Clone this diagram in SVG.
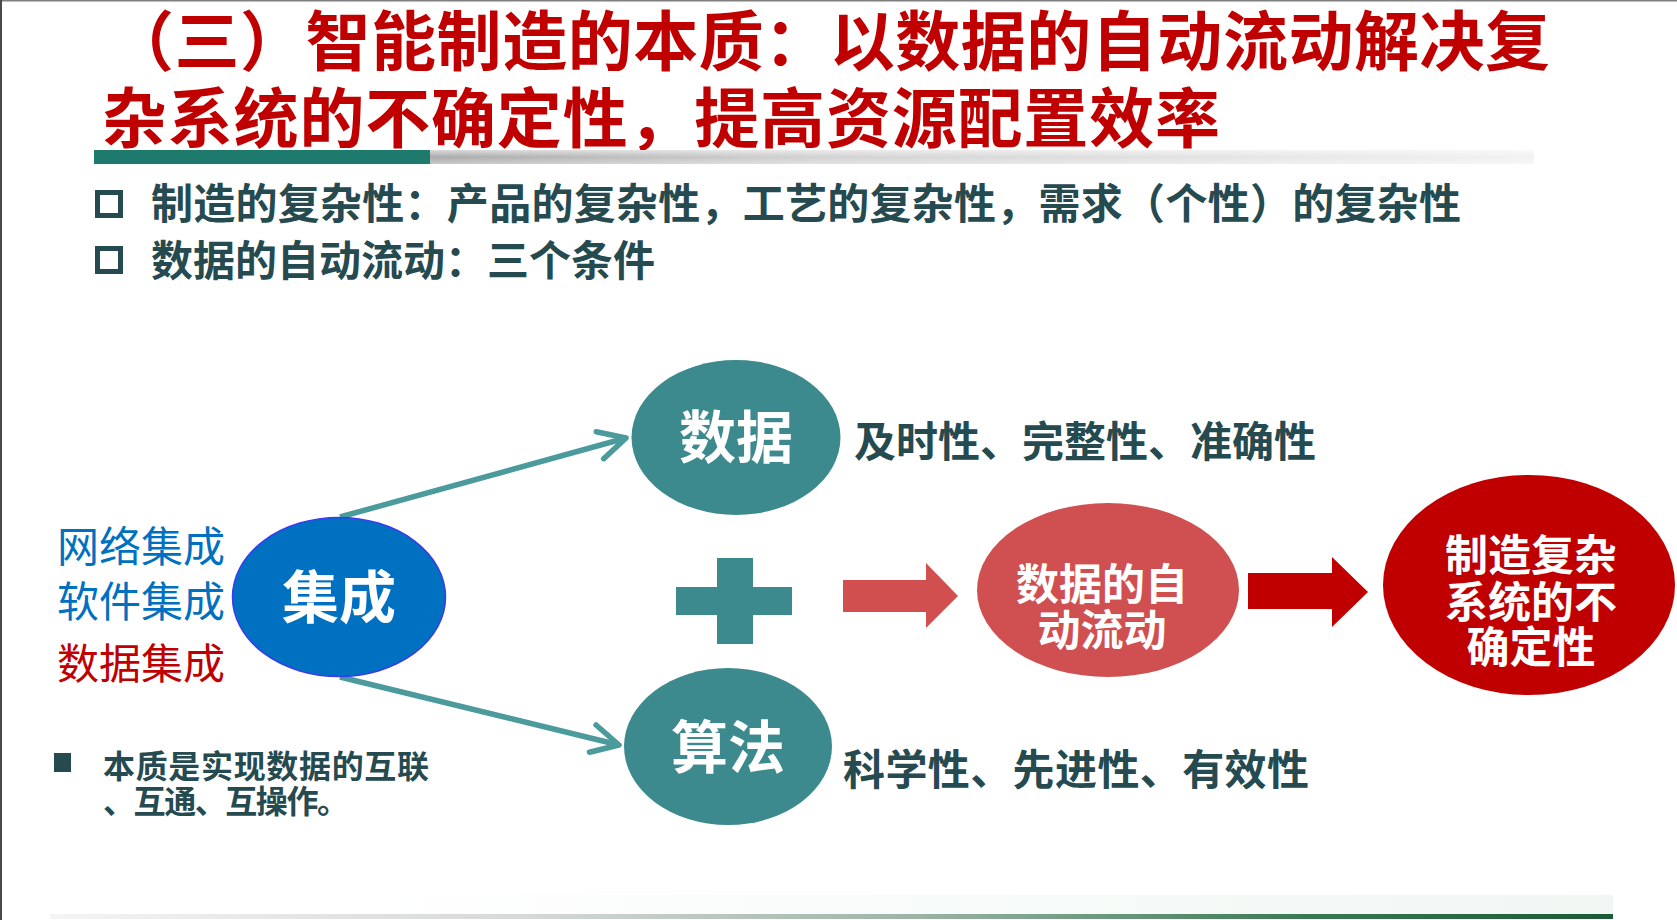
<svg xmlns="http://www.w3.org/2000/svg" width="1677" height="920" viewBox="0 0 1677 920">
<defs>
<style>
.cjk{font-family:"Noto Sans CJK SC","Noto Sans CJK JP",sans-serif;}
.title{font-size:65px;font-weight:700;fill:#C00000;}
.bul{font-size:42px;font-weight:700;fill:#254A50;}
.lab{font-size:42px;font-weight:400;}
.node{font-weight:700;fill:#FFFFFF;text-anchor:middle;}
.teal{fill:#3D8A8E;}
.conn{stroke:#4B9A9C;stroke-width:5.5;fill:none;marker-end:url(#chev);}
</style>
<marker id="chev" viewBox="-34 -20 40 40" refX="0" refY="0" markerWidth="40" markerHeight="40" markerUnits="userSpaceOnUse" orient="auto">
<path d="M -27 -14 L 0 0 L -27 14" fill="none" stroke="#4B9A9C" stroke-width="5.5" stroke-linecap="round" stroke-linejoin="round"/>
</marker>
<linearGradient id="grayBar" x1="0" y1="0" x2="1" y2="0">
<stop offset="0" stop-color="#ABABAB"/>
<stop offset="0.35" stop-color="#D2D2D2"/>
<stop offset="1" stop-color="#F2F2F2"/>
</linearGradient>
<linearGradient id="barShade" x1="0" y1="0" x2="0" y2="1">
<stop offset="0" stop-color="#FFFFFF" stop-opacity="0.55"/>
<stop offset="0.5" stop-color="#FFFFFF" stop-opacity="0"/>
<stop offset="1" stop-color="#FFFFFF" stop-opacity="0.35"/>
</linearGradient>
<linearGradient id="footBar" x1="0" y1="0" x2="1" y2="0">
<stop offset="0" stop-color="#F4F4F4"/>
<stop offset="0.3" stop-color="#D6D9D7"/>
<stop offset="0.55" stop-color="#9DB5A6"/>
<stop offset="0.8" stop-color="#3A7A52"/>
<stop offset="1" stop-color="#1B5A34"/>
</linearGradient>
<linearGradient id="footGlow" x1="0" y1="0" x2="1" y2="0">
<stop offset="0" stop-color="#EEF6F2" stop-opacity="0"/>
<stop offset="1" stop-color="#EEF6F2" stop-opacity="0.9"/>
</linearGradient>
</defs>

<rect x="0" y="0" width="1677" height="920" fill="#FFFFFF"/>
<rect x="0" y="0" width="1677" height="1.5" fill="#808080"/>
<rect x="0" y="0" width="2" height="920" fill="#4A4A4A"/>

<g id="title">
<text class="cjk title" x="109" y="65" textLength="1441">（三）智能制造的本质：以数据的自动流动解决复</text>
<text class="cjk title" x="102" y="142" textLength="1118">杂系统的不确定性，提高资源配置效率</text>
<rect x="430" y="150" width="1104" height="14" fill="url(#grayBar)"/>
<rect x="430" y="150" width="1104" height="14" fill="url(#barShade)"/>
<rect x="94" y="150" width="336" height="14" fill="#1F7A6E"/>
</g>

<g id="bullets">
<rect x="97.5" y="192.5" width="23" height="23" fill="none" stroke="#254A50" stroke-width="5"/>
<text class="cjk bul" x="151" y="219" textLength="1310">制造的复杂性：产品的复杂性，工艺的复杂性，需求（个性）的复杂性</text>
<rect x="97.5" y="248.5" width="23" height="23" fill="none" stroke="#254A50" stroke-width="5"/>
<text class="cjk bul" x="151" y="276" textLength="504">数据的自动流动：三个条件</text>
</g>

<g id="integration-labels">
<text class="cjk lab" x="57" y="562" fill="#0070C0" textLength="168">网络集成</text>
<text class="cjk lab" x="57" y="617" fill="#0070C0" textLength="168">软件集成</text>
<text class="cjk lab" x="57" y="679" fill="#C00000" textLength="168">数据集成</text>
</g>

<g id="essence-note">
<rect x="54" y="753" width="17" height="19" fill="#254A50"/>
<text class="cjk" x="103" y="778" font-size="32" font-weight="700" fill="#254A50" textLength="326">本质是实现数据的互联</text>
<text class="cjk" x="103" y="813" font-size="32" font-weight="700" fill="#254A50" textLength="246">、互通、互操作。</text>
</g>

<g id="connectors">
<line class="conn" x1="340" y1="517" x2="626" y2="438"/>
<line class="conn" x1="340" y1="677" x2="619" y2="745"/>
<polygon id="arrow-light" points="843,580 926,580 926,563 958,596 926,628 926,612 843,612" fill="#D24F4F"/>
<polygon id="arrow-dark" points="1248,573 1332,573 1332,557 1368,592 1332,627 1332,609 1248,609" fill="#C00000"/>
</g>

<g id="node-jicheng">
<ellipse cx="339" cy="597" rx="106.5" ry="79.5" fill="#0070C0" stroke="#3A3AF0" stroke-width="1.5"/>
<text class="cjk node" x="339" y="618" font-size="57">集成</text>
</g>

<g id="node-shuju">
<ellipse cx="736" cy="437.5" rx="104.5" ry="77.5" class="teal"/>
<text class="cjk node" x="736" y="458" font-size="57">数据</text>
</g>

<g id="node-suanfa">
<ellipse cx="728" cy="746.5" rx="104" ry="78.5" class="teal"/>
<text class="cjk node" x="728" y="768" font-size="57">算法</text>
</g>

<g id="plus">
<rect x="676" y="587" width="116" height="28" class="teal"/>
<rect x="717" y="558" width="36" height="86" class="teal"/>
</g>

<g id="data-qualities">
<text class="cjk bul" x="854" y="457" textLength="462">及时性、完整性、准确性</text>
</g>
<g id="algo-qualities">
<text class="cjk bul" x="843" y="785" textLength="466">科学性、先进性、有效性</text>
</g>

<g id="node-flow">
<ellipse cx="1108" cy="590" rx="131" ry="87" fill="#D04F50"/>
<text class="cjk node" x="1102" y="600" font-size="43">数据的自</text>
<text class="cjk node" x="1102" y="646" font-size="43">动流动</text>
</g>

<g id="node-complex">
<ellipse cx="1529" cy="585" rx="146" ry="110" fill="#C00000"/>
<text class="cjk node" x="1531" y="571" font-size="43">制造复杂</text>
<text class="cjk node" x="1531" y="618" font-size="43">系统的不</text>
<text class="cjk node" x="1531" y="663" font-size="43">确定性</text>
</g>

<g id="footer">
<rect x="300" y="895" width="1313" height="19" fill="url(#footGlow)"/>
<rect x="50" y="914" width="1563" height="5" fill="url(#footBar)"/>
</g>
</svg>
